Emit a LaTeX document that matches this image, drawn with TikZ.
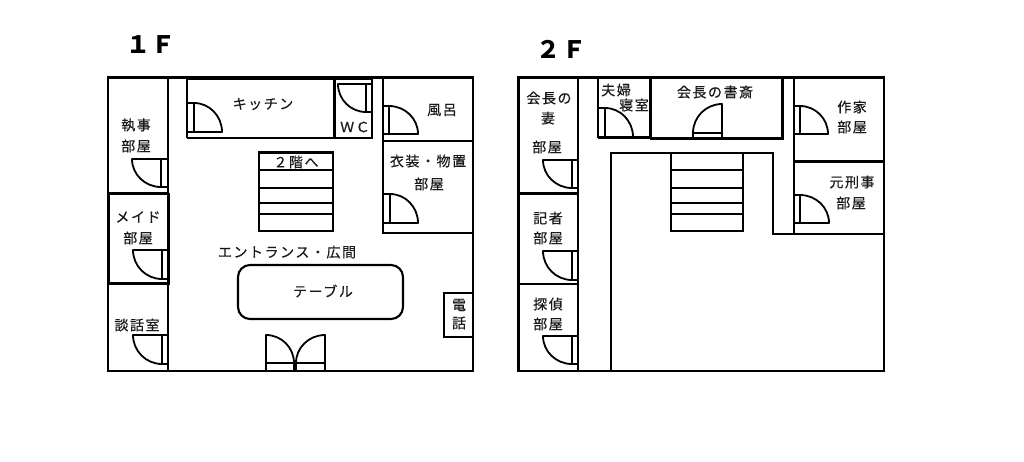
\documentclass[tikz,border=0pt]{standalone}
\usepackage{fontspec}
\newfontfamily\jp[LetterSpace=11,FakeBold=0.4]{Noto Sans CJK JP}
\newfontfamily\jpt{Noto Sans CJK JP}
\newcommand\swing[5]{%
  \draw[doorline] (#1+#3,#2) .. controls (#1+#3,#2+0.552*#4) and (#1+0.552*#3,#2+#4) .. (#1,#2+#4);
  \draw[doorline] (#1+#3,#2) -- (#1+#5,#2) -- (#1+#5,#2+#4) -- (#1,#2+#4) -- (#1,#2) ;}
\newcommand\upswing[5]{%
  \draw[doorline] (#1+#3,#2) .. controls (#1+#3,#2+0.552*#4) and (#1+0.552*#3,#2+#4) .. (#1,#2+#4) -- (#1,#2+#5);
  \draw[doorline] (#1+#3,#2) -- (#1,#2);
  \draw[doorline] (#1+#3,#2) -- (#1+#3,#2+#5) -- (#1,#2+#5);}
\tikzset{
  wall/.style={draw=black,line width=2.1pt},
  thick wall/.style={draw=black,line width=3pt},
  doorline/.style={draw=black,line width=1.8pt,line cap=round,line join=round},
  treadline/.style={draw=black,line width=1.9pt},
  lab/.style={inner sep=0pt,text=black!90,font=\jp\fontsize{14}{16}\selectfont,align=center},
  title/.style={inner sep=0pt,text=black,font=\jpt\bfseries\fontsize{24}{27}\selectfont},
}
\begin{document}
\begin{tikzpicture}[x=1pt,y=-1pt]
\useasboundingbox[fill=white] (0,0) rectangle (1024,461);
% ---- 1F ----
\node[title] (t1) at (151,45) {１\hspace{2pt}Ｆ};
\draw[wall] (108,77.5) rectangle (473,371);
\draw[wall] (168,77.5) -- (168,371);
\draw[thick wall] (108,193) -- (168,193);
\draw[thick wall] (108,193) -- (108,283) -- (168,283) -- (168,193);
\draw[wall] (187,77.5) -- (187,138);
\draw[thick wall] (187,78) -- (333,78);
\draw[wall] (187,138) -- (334,138);
\draw[thick wall] (334,78) -- (334,138);
\draw[wall] (334,79) rectangle (372,138);
\draw[wall] (383,77.5) -- (383,233) -- (473,233);
\draw[wall] (383,141) -- (473,141);
\draw[wall] (259,152.5) rectangle (333,231);
\foreach \yy in {170,188,203,214} \draw[treadline] (259,\yy) -- (333,\yy);
\draw[wall,rounded corners=12pt] (238,265) rectangle (403,319);
\draw[wall] (473,293) -- (444,293) -- (444,337) -- (473,337);
\swing{194}{132}{28}{-29}{-7}
\swing{161}{159}{-29}{28}{7}
\swing{162}{250}{-29}{29}{6}
\swing{162}{335}{-29}{29}{6}
\swing{366}{84}{-28}{28}{6}
\swing{389}{134}{29}{-28}{-6}
\swing{390}{223}{28}{-29}{-7}
\upswing{266}{363}{28}{-28}{8}
\upswing{325}{363}{-29}{-28}{8}
\node[lab] (n1) at (136,125) {執事};
\node[lab] (n2) at (136,146) {部屋};
\node[lab] (n3) at (263,104) {キッチン};
\node[lab] (n4) at (355,127) {ＷＣ};
\node[lab] (n5) at (442,110) {風呂};
\node[lab] (n6) at (428,161) {衣装・物置};
\node[lab] (n7) at (429,184) {部屋};
\node[lab] (n8) at (296,162) {２階へ};
\node[lab] (n9) at (138,217) {メイド};
\node[lab] (n10) at (138,238) {部屋};
\node[lab] (n11) at (137,325) {談話室};
\node[lab] (n12) at (287,252) {エントランス・広間};
\node[lab] (n13) at (323,291) {テーブル};
\node[lab] (n14) at (459,305) {電};
\node[lab] (n15) at (459,323) {話};
% ---- 2F ----
\node[title] (t2) at (561,49) {２\hspace{2pt}Ｆ};
\draw[wall] (518.5,77.5) rectangle (884,371);
\draw[wall] (578,77.5) -- (578,371);
\draw[thick wall] (518.5,193.5) -- (578,193.5);
\draw[thick wall] (518.5,193.5) -- (518.5,284);
\draw[wall] (518.5,284) -- (578,284);
\draw[wall] (598,77.5) -- (598,138);
\draw[thick wall] (598,137.5) -- (650,137.5);
\draw[thick wall] (650,77.5) -- (650,138);
\draw[thick wall] (650,138) -- (782,138) -- (782,77.5);
\draw[wall] (611,371) -- (611,153) -- (773,153) -- (773,234) -- (884,234);
\draw[wall] (794,77.5) -- (794,234);
\draw[thick wall] (794,161) -- (884,161);
\draw[wall] (671,153) rectangle (743,231);
\foreach \yy in {170,188,203,214} \draw[treadline] (671,\yy) -- (743,\yy);
\swing{572}{160}{-29}{28}{6}
\swing{572}{251}{-29}{29}{6}
\swing{572}{336}{-29}{28}{6}
\swing{605}{137}{28}{-29}{-7}
\upswing{722}{133}{-29}{-29}{5}
\swing{800}{134}{28}{-28}{-6}
\swing{800}{223}{29}{-28}{-6}
\node[lab] (m1) at (549,98) {会長の};
\node[lab] (m2) at (548,118) {妻};
\node[lab] (m3) at (547,147) {部屋};
\node[lab] (m4) at (616,90) {夫婦};
\node[lab] (m5) at (634,105) {寝室};
\node[lab] (m6) at (715,92) {会長の書斎};
\node[lab] (m7) at (852,107) {作家};
\node[lab] (m8) at (852,127) {部屋};
\node[lab] (m9) at (852,182) {元刑事};
\node[lab] (m10) at (851,203) {部屋};
\node[lab] (m11) at (548,218) {記者};
\node[lab] (m12) at (548,238) {部屋};
\node[lab] (m13) at (548,304) {探偵};
\node[lab] (m14) at (548,324) {部屋};
\end{tikzpicture}
\end{document}
